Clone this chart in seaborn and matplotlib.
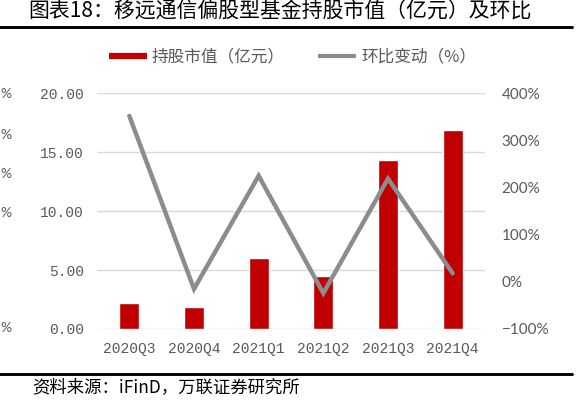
import matplotlib

matplotlib.use("Agg")

import matplotlib.pyplot as plt
import pandas as pd
import seaborn as sns
from matplotlib.lines import Line2D
from matplotlib.ticker import FixedLocator, FuncFormatter

quarters = ["2020Q3", "2020Q4", "2021Q1", "2021Q2", "2021Q3", "2021Q4"]
holding_value = [2.18, 1.84, 5.99, 4.49, 14.33, 16.86]
qoq_change = [352, -15, 225, -24, 219, 18]
left_ticks = [0, 5, 10, 15, 20]
right_ticks = [-100, 0, 100, 200, 300, 400]

title = "图表18：移远通信偏股型基金持股市值（亿元）及环比"
source = "资料来源：iFinD，万联证券研究所"
bar_label = "持股市值（亿元）"
line_label = "环比变动（%）"

BAR_COLOR = "#c00000"
LINE_COLOR = "#8c8c8c"
TEXT_COLOR = "#595959"
CJK = ["Noto Sans CJK SC", "DejaVu Sans"]
MONO = ["Liberation Mono", "DejaVu Sans Mono"]

sns.set_style("white")
plt.rcParams["font.family"] = CJK
plt.rcParams["axes.unicode_minus"] = True

frame = pd.DataFrame({"quarter": quarters, "value": holding_value, "change": qoq_change})

W, H = 585, 400
fig = plt.figure(figsize=(W / 100, H / 100), dpi=100)
ax = fig.add_axes([97 / W, 1 - 329 / H, (485 - 97) / W, (329 - 93.3) / H])

sns.barplot(data=frame, x="quarter", y="value", color=BAR_COLOR, saturation=1,
            width=0.31, ax=ax, zorder=3)
ax.set_xlim(-0.5, len(quarters) - 0.5)
ax.set_ylim(0, 20)
ax.yaxis.set_major_locator(FixedLocator(left_ticks))
ax.yaxis.set_major_formatter(FuncFormatter(lambda v, _: f"{v:.2f}"))
ax.grid(axis="y", color="#d9d9d9", linewidth=1)
ax.set_axisbelow(True)
ax.set_xlabel("")
ax.set_ylabel("")
for side in ax.spines.values():
    side.set_visible(False)
ax.tick_params(axis="y", length=0, pad=9.5, labelcolor=TEXT_COLOR)
ax.tick_params(axis="x", length=0, pad=9, labelcolor=TEXT_COLOR)
for lbl in ax.get_yticklabels() + ax.get_xticklabels():
    lbl.set_fontfamily(MONO)
    lbl.set_fontsize(10.5)

ax2 = ax.twinx()
sns.lineplot(data=frame, x="quarter", y="change", color=LINE_COLOR, linewidth=3.2,
             sort=False, ax=ax2, solid_capstyle="round", solid_joinstyle="miter")
ax2.set_ylim(-100, 400)
ax2.yaxis.set_major_locator(FixedLocator(right_ticks))
ax2.yaxis.set_major_formatter(FuncFormatter(lambda v, _: f"{int(v)}%".replace("-", "\u2212")))
ax2.set_ylabel("")
ax2.set_xlabel("")
ax2.grid(False)
for side in ax2.spines.values():
    side.set_visible(False)
ax2.tick_params(axis="y", length=0, pad=12, labelcolor=TEXT_COLOR)
for lbl in ax2.get_yticklabels():
    lbl.set_fontfamily(["Lato", "DejaVu Sans"])
    lbl.set_fontsize(11)

# title, rules and source
fig.text(28 / W, 1 - 12 / H, title, fontsize=15, ha="left", va="center", color="black")
fig.add_artist(Line2D([0, 572 / W], [1 - 27 / H] * 2, color="black", linewidth=2.1))
fig.add_artist(Line2D([0, 572 / W], [1 - 374 / H] * 2, color="black", linewidth=2.1))
fig.text(32 / W, 1 - 387.5 / H, source, fontsize=12.5, ha="left", va="center",
         color="black", style="italic")

# labels of a neighbouring chart showing at the left edge
for y in [94, 135, 174, 213, 328]:
    fig.text(0.5 / W, 1 - y / H, "%", fontsize=10, ha="left", va="center",
             color=TEXT_COLOR, family=["Lato", "DejaVu Sans"])

handles = [
    Line2D([], [], color=BAR_COLOR, linewidth=4.5, solid_capstyle="butt"),
    Line2D([], [], color=LINE_COLOR, linewidth=3, solid_capstyle="butt"),
]
fig.legend(handles, [bar_label, line_label], loc="center", bbox_to_anchor=(0.5, 1 - 57 / H),
           ncol=2, frameon=False, fontsize=12, handlelength=2.3, handletextpad=0.3,
           columnspacing=2.0, labelcolor=TEXT_COLOR)

fig.savefig("out.png", dpi=100)
